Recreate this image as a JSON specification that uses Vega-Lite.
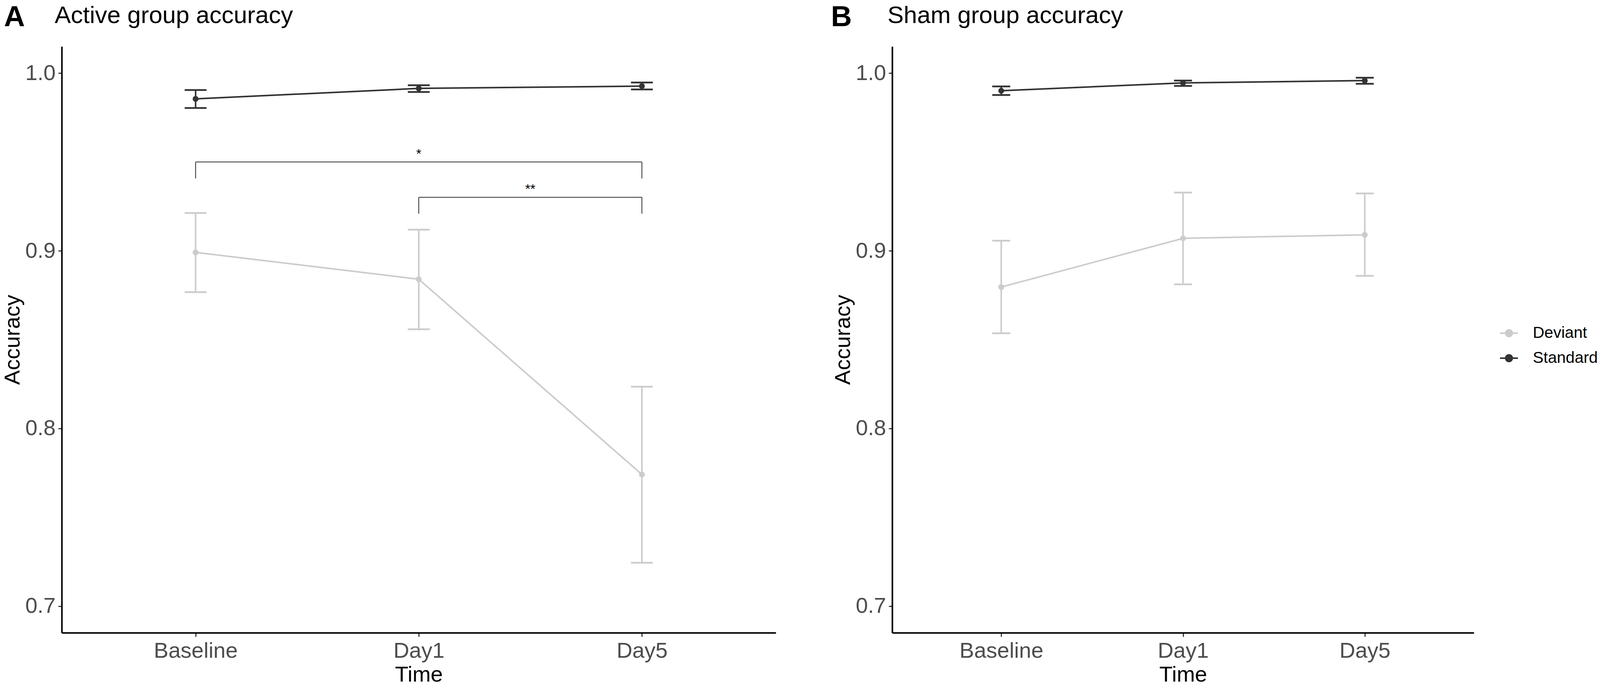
{
  "$schema": "https://vega.github.io/schema/vega-lite/v6.json",
  "background": "white",
  "padding": {"left": 4, "top": 8, "right": 0, "bottom": 0},
  "datasets": {
    "a": [
      {"cond": "Standard", "t": 1, "mean": 0.9855, "lo": 0.9804, "hi": 0.9905},
      {"cond": "Standard", "t": 2, "mean": 0.9914, "lo": 0.9894, "hi": 0.9932},
      {"cond": "Standard", "t": 3, "mean": 0.9927, "lo": 0.9908, "hi": 0.9947},
      {"cond": "Deviant", "t": 1, "mean": 0.8991, "lo": 0.8767, "hi": 0.9213},
      {"cond": "Deviant", "t": 2, "mean": 0.8840, "lo": 0.8558, "hi": 0.9119},
      {"cond": "Deviant", "t": 3, "mean": 0.7741, "lo": 0.7244, "hi": 0.8235}
    ],
    "b": [
      {"cond": "Standard", "t": 1, "mean": 0.9901, "lo": 0.9877, "hi": 0.9925},
      {"cond": "Standard", "t": 2, "mean": 0.9945, "lo": 0.9928, "hi": 0.9958},
      {"cond": "Standard", "t": 3, "mean": 0.9958, "lo": 0.9940, "hi": 0.9974},
      {"cond": "Deviant", "t": 1, "mean": 0.8796, "lo": 0.8536, "hi": 0.9057},
      {"cond": "Deviant", "t": 2, "mean": 0.9070, "lo": 0.8811, "hi": 0.9328},
      {"cond": "Deviant", "t": 3, "mean": 0.9090, "lo": 0.8859, "hi": 0.9323}
    ],
    "brk": [
      {"x": 1, "x2": 3, "y": 0.9500, "y2": 0.9500},
      {"x": 1, "x2": 1, "y": 0.9500, "y2": 0.9407},
      {"x": 3, "x2": 3, "y": 0.9500, "y2": 0.9407},
      {"x": 2, "x2": 3, "y": 0.9301, "y2": 0.9301},
      {"x": 2, "x2": 2, "y": 0.9301, "y2": 0.9209},
      {"x": 3, "x2": 3, "y": 0.9301, "y2": 0.9209}
    ],
    "stars": [
      {"x": 2, "y": 0.9522, "label": "*"},
      {"x": 2.5, "y": 0.9323, "label": "**"}
    ]
  },
  "config": {
    "font": "Liberation Sans",
    "view": {"stroke": null},
    "axis": {
      "grid": false,
      "domainColor": "black",
      "domainWidth": 4,
      "tickColor": "#333333",
      "tickWidth": 2.8,
      "tickSize": 10,
      "labelFont": "Liberation Sans",
      "labelFontSize": 56,
      "labelColor": "#4d4d4d",
      "labelPadding": 9,
      "labelLimit": 0,
      "titleFont": "Liberation Sans",
      "titleFontSize": 56,
      "titleFontWeight": "normal",
      "titleColor": "black"
    },
    "axisX": {"titlePadding": 6},
    "axisY": {"titlePadding": 3, "labelPadding": 7, "tickSize": 9},
    "title": {"font": "Liberation Sans", "color": "black", "fontWeight": "normal"}
  },
  "spacing": 141,
  "hconcat": [
    {
      "title": {"text": "A", "anchor": "start", "frame": "bounds", "fontSize": 74, "fontWeight": "bold", "dx": 6, "dy": 78},
      "vconcat": [
        {
          "width": 1828,
          "height": 1501,
          "title": {"text": "Active group accuracy", "anchor": "start", "frame": "group", "dx": -18, "fontSize": 62, "offset": 47},
          "data": {"name": "a"},
          "layer": [
            {
              "mark": {"type": "rule", "strokeWidth": 4},
              "encoding": {
                "x": {"field": "t", "type": "quantitative", "scale": {"domain": [0.4, 3.6], "nice": false, "zero": false}, "title": "Time",
                  "axis": {"values": [1, 2, 3], "labelExpr": "datum.value == 1 ? 'Baseline' : datum.value == 2 ? 'Day1' : 'Day5'"}},
                "y": {"field": "lo", "type": "quantitative", "scale": {"domain": [0.685, 1.015], "nice": false, "zero": false}, "title": "Accuracy",
                  "axis": {"values": [0.7, 0.8, 0.9, 1.0], "format": ".1f"}},
                "y2": {"field": "hi"},
                "color": {"field": "cond", "type": "nominal", "scale": {"domain": ["Deviant", "Standard"], "range": ["#cccccc", "#333333"]},
                  "legend": {
                    "title": null, "orient": "none", "legendX": 3680, "legendY": 709, "padding": 0,
                    "symbolType": "M-1,0H1M-0.37,0A0.37,0.37 0 1,1 0.37,0A0.37,0.37 0 1,1 -0.37,0Z",
                    "symbolSize": 2098, "symbolStrokeWidth": 4,
                    "labelFontSize": 41, "labelFont": "Liberation Sans", "labelColor": "black", "labelOffset": 36, "rowPadding": 19, "labelLimit": 0,
                    "encode": {"symbols": {"update": {"fill": {"scale": "color", "field": "value"}, "stroke": {"scale": "color", "field": "value"}, "opacity": {"value": 1}}}}
                  }}
              }
            },
            {
              "mark": {"type": "tick", "orient": "horizontal", "size": 56, "thickness": 4.5, "opacity": 1},
              "encoding": {
                "x": {"field": "t", "type": "quantitative", "scale": {"domain": [0.4, 3.6], "nice": false, "zero": false}, "title": "Time"},
                "y": {"field": "lo", "type": "quantitative", "scale": {"domain": [0.685, 1.015], "nice": false, "zero": false}, "title": "Accuracy"},
                "color": {"field": "cond", "type": "nominal", "scale": {"domain": ["Deviant", "Standard"], "range": ["#cccccc", "#333333"]}}
              }
            },
            {
              "mark": {"type": "tick", "orient": "horizontal", "size": 56, "thickness": 4.5, "opacity": 1},
              "encoding": {
                "x": {"field": "t", "type": "quantitative", "scale": {"domain": [0.4, 3.6], "nice": false, "zero": false}, "title": "Time"},
                "y": {"field": "hi", "type": "quantitative", "scale": {"domain": [0.685, 1.015], "nice": false, "zero": false}, "title": "Accuracy"},
                "color": {"field": "cond", "type": "nominal", "scale": {"domain": ["Deviant", "Standard"], "range": ["#cccccc", "#333333"]}}
              }
            },
            {
              "mark": {"type": "line", "strokeWidth": 4},
              "encoding": {
                "x": {"field": "t", "type": "quantitative", "scale": {"domain": [0.4, 3.6], "nice": false, "zero": false}, "title": "Time"},
                "y": {"field": "mean", "type": "quantitative", "scale": {"domain": [0.685, 1.015], "nice": false, "zero": false}, "title": "Accuracy"},
                "color": {"field": "cond", "type": "nominal", "scale": {"domain": ["Deviant", "Standard"], "range": ["#cccccc", "#333333"]}}
              }
            },
            {
              "mark": {"type": "circle", "size": 227, "opacity": 1},
              "encoding": {
                "x": {"field": "t", "type": "quantitative", "scale": {"domain": [0.4, 3.6], "nice": false, "zero": false}, "title": "Time"},
                "y": {"field": "mean", "type": "quantitative", "scale": {"domain": [0.685, 1.015], "nice": false, "zero": false}, "title": "Accuracy"},
                "color": {"field": "cond", "type": "nominal", "scale": {"domain": ["Deviant", "Standard"], "range": ["#cccccc", "#333333"]}}
              }
            },
            {
              "data": {"name": "brk"},
              "mark": {"type": "rule", "strokeWidth": 2.3, "color": "#444444"},
              "encoding": {
                "x": {"field": "x", "type": "quantitative", "scale": {"domain": [0.4, 3.6], "nice": false, "zero": false}, "title": "Time"},
                "x2": {"field": "x2"},
                "y": {"field": "y", "type": "quantitative", "scale": {"domain": [0.685, 1.015], "nice": false, "zero": false}, "title": "Accuracy"},
                "y2": {"field": "y2"}
              }
            },
            {
              "data": {"name": "stars"},
              "mark": {"type": "text", "fontSize": 34, "baseline": "alphabetic", "align": "center", "color": "black", "font": "Liberation Sans"},
              "encoding": {
                "x": {"field": "x", "type": "quantitative", "scale": {"domain": [0.4, 3.6], "nice": false, "zero": false}, "title": "Time"},
                "y": {"field": "y", "type": "quantitative", "scale": {"domain": [0.685, 1.015], "nice": false, "zero": false}, "title": "Accuracy"},
                "text": {"field": "label"}
              }
            }
          ]
        }
      ]
    },
    {
      "title": {"text": "B", "anchor": "start", "frame": "bounds", "fontSize": 74, "fontWeight": "bold", "dx": -3, "dy": 78},
      "vconcat": [
        {
          "width": 1489,
          "height": 1501,
          "title": {"text": "Sham group accuracy", "anchor": "start", "frame": "group", "dx": -12, "fontSize": 62, "offset": 47},
          "data": {"name": "b"},
          "layer": [
            {
              "mark": {"type": "rule", "strokeWidth": 4},
              "encoding": {
                "x": {"field": "t", "type": "quantitative", "scale": {"domain": [0.4, 3.6], "nice": false, "zero": false}, "title": "Time",
                  "axis": {"values": [1, 2, 3], "labelExpr": "datum.value == 1 ? 'Baseline' : datum.value == 2 ? 'Day1' : 'Day5'"}},
                "y": {"field": "lo", "type": "quantitative", "scale": {"domain": [0.685, 1.015], "nice": false, "zero": false}, "title": "Accuracy",
                  "axis": {"values": [0.7, 0.8, 0.9, 1.0], "format": ".1f"}},
                "y2": {"field": "hi"},
                "color": {"field": "cond", "type": "nominal", "scale": {"domain": ["Deviant", "Standard"], "range": ["#cccccc", "#333333"]}}
              }
            },
            {
              "mark": {"type": "tick", "orient": "horizontal", "size": 46, "thickness": 4.5, "opacity": 1},
              "encoding": {
                "x": {"field": "t", "type": "quantitative", "scale": {"domain": [0.4, 3.6], "nice": false, "zero": false}, "title": "Time"},
                "y": {"field": "lo", "type": "quantitative", "scale": {"domain": [0.685, 1.015], "nice": false, "zero": false}, "title": "Accuracy"},
                "color": {"field": "cond", "type": "nominal", "scale": {"domain": ["Deviant", "Standard"], "range": ["#cccccc", "#333333"]}}
              }
            },
            {
              "mark": {"type": "tick", "orient": "horizontal", "size": 46, "thickness": 4.5, "opacity": 1},
              "encoding": {
                "x": {"field": "t", "type": "quantitative", "scale": {"domain": [0.4, 3.6], "nice": false, "zero": false}, "title": "Time"},
                "y": {"field": "hi", "type": "quantitative", "scale": {"domain": [0.685, 1.015], "nice": false, "zero": false}, "title": "Accuracy"},
                "color": {"field": "cond", "type": "nominal", "scale": {"domain": ["Deviant", "Standard"], "range": ["#cccccc", "#333333"]}}
              }
            },
            {
              "mark": {"type": "line", "strokeWidth": 4},
              "encoding": {
                "x": {"field": "t", "type": "quantitative", "scale": {"domain": [0.4, 3.6], "nice": false, "zero": false}, "title": "Time"},
                "y": {"field": "mean", "type": "quantitative", "scale": {"domain": [0.685, 1.015], "nice": false, "zero": false}, "title": "Accuracy"},
                "color": {"field": "cond", "type": "nominal", "scale": {"domain": ["Deviant", "Standard"], "range": ["#cccccc", "#333333"]}}
              }
            },
            {
              "mark": {"type": "circle", "size": 227, "opacity": 1},
              "encoding": {
                "x": {"field": "t", "type": "quantitative", "scale": {"domain": [0.4, 3.6], "nice": false, "zero": false}, "title": "Time"},
                "y": {"field": "mean", "type": "quantitative", "scale": {"domain": [0.685, 1.015], "nice": false, "zero": false}, "title": "Accuracy"},
                "color": {"field": "cond", "type": "nominal", "scale": {"domain": ["Deviant", "Standard"], "range": ["#cccccc", "#333333"]}}
              }
            }
          ]
        }
      ]
    }
  ]
}
